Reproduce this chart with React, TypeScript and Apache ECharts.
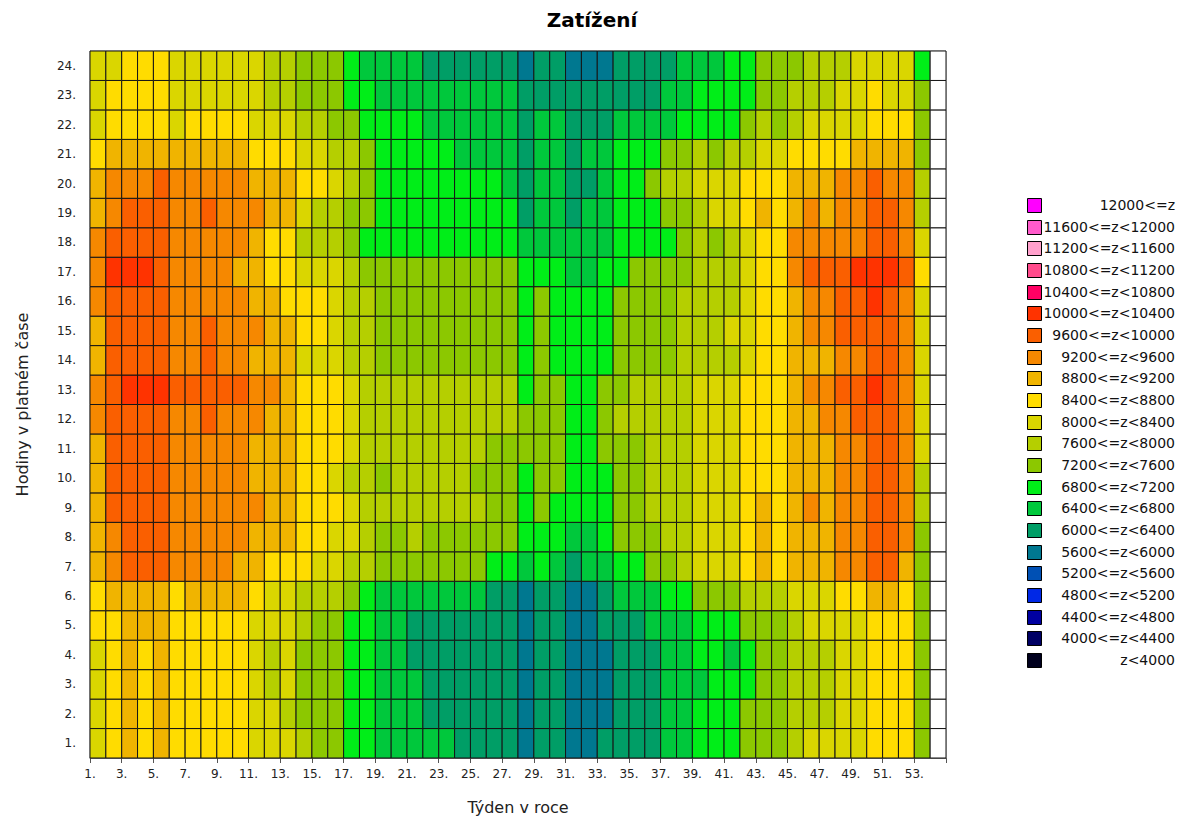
import React, { useEffect, useRef } from 'react';
import * as echarts from 'echarts';

const chartTitle = 'Zatížení';
const xAxisName = 'Týden v roce';
const yAxisName = 'Hodiny v platném čase';
const weekCount = 54;
const hourLabels = ['1.', '2.', '3.', '4.', '5.', '6.', '7.', '8.', '9.', '10.', '11.', '12.', '13.', '14.', '15.', '16.', '17.', '18.', '19.', '20.', '21.', '22.', '23.', '24.'];

const binLows = [12000, 11600, 11200, 10800, 10400, 10000, 9600, 9200, 8800, 8400, 8000, 7600, 7200, 6800, 6400, 6000, 5600, 5200, 4800, 4400, 4000, null];
const binLabels = ['12000<=z', '11600<=z<12000', '11200<=z<11600', '10800<=z<11200', '10400<=z<10800', '10000<=z<10400', '9600<=z<10000', '9200<=z<9600', '8800<=z<9200', '8400<=z<8800', '8000<=z<8400', '7600<=z<8000', '7200<=z<7600', '6800<=z<7200', '6400<=z<6800', '6000<=z<6400', '5600<=z<6000', '5200<=z<5600', '4800<=z<5200', '4400<=z<4800', '4000<=z<4400', 'z<4000'];
const binColors = ['#FF00FF', '#FF5ACB', '#FFA0CC', '#FF4B8C', '#FF0064', '#FF3300', '#FA5F00', '#F68800', '#F0B400', '#FFDC00', '#DAD600', '#B5CF00', '#8CC800', '#00EE18', '#00C83C', '#009E66', '#007890', '#0050B4', '#0028E6', '#0000A0', '#000064', '#00001E'];

// load per week (weeks 1..53; week 54 has no data) for each hour
const hour01 = [8200, 8600, 9000, 8600, 9000, 8600, 8600, 8600, 8600, 8600, 8200, 8200, 8200,
  7800, 7400, 7400, 7000, 7000, 6600, 6600, 6600, 6600, 6600, 6200, 6200, 6200, 6200,
  5800, 6200, 6200, 5800, 5800, 6200, 6200, 6200, 6200, 6600, 6600, 7000, 7000, 7000,
  7400, 7400, 7400, 7800, 8200, 8200, 8200, 8200, 8600, 8600, 8600, 7400];
const hour02 = [8200, 8600, 9000, 8600, 9000, 8600, 8600, 8600, 8600, 8600, 8200, 8200, 7800,
  7400, 7400, 7400, 7000, 7000, 6600, 6600, 6600, 6200, 6200, 6200, 6200, 6200, 6200,
  5800, 6200, 6200, 5800, 5800, 5800, 6200, 6200, 6200, 6600, 6600, 7000, 7000, 7000,
  7400, 7400, 7400, 7800, 7800, 7800, 8200, 8200, 8600, 8600, 8600, 7400];
const hour03 = [8200, 8600, 9000, 8600, 9000, 8600, 8600, 8600, 8600, 8600, 8200, 7800, 8200,
  7400, 7400, 7400, 7000, 7000, 6600, 6600, 6600, 6200, 6200, 6200, 6200, 6200, 6200,
  5800, 6200, 6200, 5800, 5800, 5800, 6200, 6200, 6200, 6600, 6600, 6600, 7000, 7000,
  7000, 7400, 7400, 7800, 7800, 7800, 8200, 8200, 8600, 8600, 8600, 7400];
const hour04 = [8200, 8600, 9000, 8600, 9000, 8600, 8600, 8600, 8600, 8600, 8200, 7800, 8200,
  7400, 7400, 7400, 7000, 7000, 6600, 6600, 6200, 6200, 6200, 6200, 6200, 6200, 6200,
  5800, 6200, 6200, 5800, 5800, 5800, 6200, 6200, 6200, 6600, 6600, 7000, 7000, 6600,
  7000, 7400, 7400, 7800, 7800, 7800, 8200, 8200, 8600, 8600, 8600, 7400];
const hour05 = [8600, 8600, 9000, 9000, 9000, 8600, 8600, 8600, 8600, 8600, 8200, 8200, 8200,
  7800, 7400, 7400, 7000, 7000, 6600, 6600, 6200, 6200, 6200, 6200, 6200, 6200, 6200,
  5800, 6200, 6200, 5800, 5800, 6200, 6200, 6200, 6600, 6600, 6600, 7000, 7000, 7000,
  7400, 7400, 7400, 7800, 8200, 8200, 8200, 8200, 8600, 8600, 8600, 7400];
const hour06 = [8600, 9000, 9000, 9000, 9000, 8600, 9000, 9000, 9000, 9000, 8600, 8200, 8200,
  7800, 7800, 7800, 7400, 7000, 6600, 6600, 6600, 6600, 6600, 6600, 6600, 6200, 6200,
  5800, 6200, 6200, 5800, 5800, 6200, 6600, 6600, 6600, 7000, 7000, 7400, 7400, 7400,
  7800, 7800, 7800, 8200, 8200, 8200, 8600, 8600, 9000, 9000, 8600, 7400];
const hour07 = [9000, 9400, 9800, 9800, 9800, 9400, 9400, 9400, 9400, 9000, 9000, 8600, 8600,
  8600, 8200, 8200, 7800, 7800, 7400, 7400, 7400, 7400, 7400, 7400, 7400, 7000, 7000,
  6600, 7000, 6600, 6200, 6600, 6600, 7000, 7000, 7400, 7400, 7800, 8200, 8200, 8200,
  8600, 9000, 8600, 9000, 9000, 9000, 9400, 9400, 9800, 9800, 9000, 7400];
const hour08 = [9000, 9400, 9800, 9800, 9800, 9400, 9400, 9400, 9400, 9400, 9000, 9000, 9000,
  8600, 8600, 8200, 8200, 7800, 7400, 7400, 7800, 7400, 7400, 7400, 7400, 7400, 7400,
  7000, 7000, 7000, 6600, 6600, 7000, 7400, 7400, 7400, 7800, 7800, 8200, 8200, 8200,
  8600, 9000, 8600, 9000, 9000, 9000, 9400, 9400, 9800, 9800, 9400, 7400];
const hour09 = [9000, 9800, 9800, 9800, 9800, 9400, 9400, 9400, 9400, 9400, 9400, 9000, 9000,
  8600, 8600, 8600, 8200, 7800, 7800, 7800, 7800, 7800, 7800, 7800, 7800, 7400, 7400,
  7000, 7400, 7000, 7000, 7000, 7000, 7400, 7400, 7800, 7800, 7800, 8200, 8200, 8200,
  8600, 9000, 8600, 9000, 9400, 9000, 9400, 9400, 9800, 9800, 9400, 7800];
const hour10 = [9000, 9800, 9800, 9800, 9800, 9400, 9400, 9400, 9400, 9400, 9000, 9000, 9000,
  8600, 8600, 8200, 7800, 7800, 7400, 7800, 7800, 7800, 7800, 7800, 7400, 7400, 7400,
  7000, 7400, 7400, 7000, 7000, 7000, 7400, 7400, 7800, 7800, 7800, 8200, 8200, 8200,
  8600, 8600, 8600, 9000, 9000, 9000, 9400, 9400, 9800, 9800, 9400, 7800];
const hour11 = [9000, 9800, 9800, 9800, 9800, 9400, 9400, 9400, 9400, 9400, 9000, 9000, 9000,
  8600, 8600, 8600, 8200, 7800, 7800, 7800, 7800, 7800, 7800, 7800, 7800, 7400, 7400,
  7400, 7400, 7400, 7000, 7000, 7400, 7400, 7400, 7800, 7800, 7800, 8200, 8200, 8200,
  8600, 8600, 8600, 9000, 9000, 9000, 9400, 9400, 9800, 9800, 9400, 8200];
const hour12 = [9400, 9800, 9800, 9800, 9800, 9400, 9400, 9800, 9400, 9400, 9400, 9000, 9000,
  8600, 8600, 8600, 8200, 7800, 7800, 7800, 7800, 7800, 7800, 7800, 7800, 7800, 7800,
  7400, 7400, 7400, 7000, 7000, 7400, 7800, 7800, 7800, 7800, 7800, 8200, 8200, 8200,
  8600, 8600, 8600, 9000, 9000, 9400, 9400, 9800, 9800, 9800, 9400, 8200];
const hour13 = [9400, 9800, 10200, 10200, 10200, 9800, 9800, 9800, 9800, 9800, 9400, 9400, 9000,
  8600, 8600, 8600, 8200, 7800, 7800, 7800, 7800, 7800, 7800, 7800, 7800, 7800, 7800,
  7000, 7400, 7400, 7000, 7000, 7400, 7400, 7800, 7800, 7800, 7800, 8200, 8200, 8200,
  8600, 8600, 8600, 9000, 9400, 9400, 9800, 9800, 10200, 9800, 9400, 8200];
const hour14 = [9000, 9800, 9800, 9800, 9800, 9400, 9400, 9800, 9400, 9400, 9000, 9000, 9000,
  8200, 8200, 8200, 7800, 7800, 7400, 7400, 7400, 7400, 7400, 7400, 7400, 7400, 7400,
  7000, 7400, 7000, 7000, 7000, 7000, 7400, 7400, 7400, 7400, 7800, 7800, 7800, 7800,
  8200, 8600, 8600, 9000, 9000, 9000, 9400, 9400, 9800, 9800, 9400, 8200];
const hour15 = [9000, 9800, 9800, 9800, 9800, 9400, 9400, 9800, 9400, 9400, 9400, 9000, 9000,
  8600, 8600, 8200, 7800, 7800, 7400, 7400, 7400, 7400, 7400, 7400, 7400, 7400, 7400,
  7000, 7400, 7000, 7000, 7000, 7000, 7400, 7400, 7400, 7400, 7800, 7800, 7800, 8200,
  8200, 8600, 8600, 9000, 9400, 9400, 9800, 9800, 9800, 9800, 9400, 8200];
const hour16 = [9400, 9800, 9800, 9800, 9800, 9400, 9400, 9400, 9400, 9400, 9000, 9000, 8600,
  8600, 8600, 8200, 7800, 7800, 7400, 7400, 7400, 7400, 7400, 7400, 7400, 7400, 7400,
  7000, 7400, 7000, 7000, 7000, 7000, 7400, 7400, 7400, 7400, 7800, 7800, 7800, 7800,
  8200, 8600, 8600, 9000, 9400, 9400, 9800, 9800, 10200, 9800, 9400, 8200];
const hour17 = [9400, 10200, 10200, 10200, 9800, 9400, 9400, 9400, 9400, 9000, 9000, 8600, 8600,
  8200, 8200, 8200, 7800, 7400, 7400, 7400, 7400, 7400, 7400, 7400, 7400, 7400, 7400,
  7000, 7000, 7000, 6600, 6600, 7000, 7000, 7400, 7400, 7400, 7400, 7800, 7800, 7800,
  8200, 8600, 8600, 9400, 9800, 9800, 9800, 10200, 10200, 10200, 9800, 8600];
const hour18 = [9400, 9800, 9800, 9800, 9800, 9400, 9400, 9400, 9400, 9400, 9000, 8600, 8600,
  7800, 7800, 7800, 7400, 7000, 7000, 7000, 7000, 7000, 7000, 7000, 7000, 7000, 7000,
  6600, 6600, 6600, 6600, 6600, 6600, 7000, 7000, 7000, 7000, 7400, 7800, 7400, 7800,
  8200, 8600, 8600, 9400, 9400, 9400, 9400, 9400, 9800, 9800, 9400, 8200];
const hour19 = [9000, 9400, 9800, 9800, 9800, 9400, 9400, 9800, 9400, 9400, 9400, 9000, 9000,
  8200, 7800, 7800, 7400, 7400, 7000, 7000, 7000, 7000, 7000, 7000, 7000, 7000, 7000,
  6200, 6600, 6600, 6200, 6600, 6600, 7000, 7000, 7000, 7400, 7400, 7800, 8200, 8200,
  8600, 9000, 8600, 9000, 9400, 9000, 9400, 9400, 9800, 9800, 9400, 7800];
const hour20 = [9000, 9400, 9400, 9400, 9800, 9400, 9400, 9400, 9400, 9400, 9000, 9000, 9000,
  8600, 8600, 8200, 7800, 7400, 7000, 7000, 7000, 7000, 7000, 7000, 7000, 7000, 6600,
  6200, 6600, 6600, 6200, 6200, 6600, 7000, 7000, 7400, 7800, 7800, 8200, 8200, 8200,
  8600, 8600, 8600, 9000, 9000, 9000, 9400, 9400, 9800, 9400, 9400, 7800];
const hour21 = [8600, 9000, 9000, 9000, 9000, 9000, 9000, 9000, 9000, 9000, 8600, 8600, 8600,
  8200, 8200, 7800, 7800, 7400, 7000, 7000, 7000, 7000, 7000, 6600, 6600, 6600, 6600,
  6200, 6600, 6600, 6200, 6600, 6600, 7000, 7000, 7000, 7400, 7400, 7800, 7400, 7800,
  7800, 8200, 8200, 8600, 8600, 8600, 8600, 9000, 9000, 9000, 9000, 7400];
const hour22 = [8200, 8600, 8600, 8600, 8600, 8200, 8600, 8600, 8600, 8600, 8200, 8200, 8200,
  7800, 7800, 7400, 7400, 7000, 7000, 7000, 7000, 6600, 6600, 6600, 6600, 6600, 6600,
  6200, 6600, 6600, 6200, 6200, 6200, 6600, 6600, 6600, 6600, 7000, 7000, 7000, 7000,
  7400, 7800, 7400, 7800, 8200, 8200, 8200, 8200, 8600, 8600, 8600, 7400];
const hour23 = [8200, 8600, 8600, 8600, 8600, 8200, 8200, 8200, 8200, 8200, 8200, 7800, 7800,
  7400, 7400, 7400, 7000, 7000, 6600, 6600, 6600, 6600, 6600, 6600, 6600, 6600, 6600,
  6200, 6200, 6200, 6200, 6200, 6200, 6200, 6200, 6200, 6600, 6600, 7000, 7000, 7000,
  7000, 7400, 7400, 7800, 7800, 7800, 8200, 8200, 8600, 8200, 8200, 7400];
const hour24 = [8200, 8200, 8600, 8600, 8600, 8200, 8200, 8200, 8200, 8200, 8200, 7800, 7800,
  7400, 7400, 7400, 7000, 6600, 6600, 6600, 6600, 6200, 6200, 6200, 6200, 6200, 6200,
  5800, 6200, 6200, 5800, 5800, 5800, 6200, 6200, 6200, 6200, 6600, 6600, 6600, 7000,
  7000, 7400, 7400, 7400, 7800, 7800, 7800, 8200, 8200, 8200, 8200, 7000];

const hours = [hour01, hour02, hour03, hour04, hour05, hour06, hour07, hour08, hour09, hour10, hour11, hour12,
  hour13, hour14, hour15, hour16, hour17, hour18, hour19, hour20, hour21, hour22, hour23, hour24];

const FONT = 'DejaVu Sans';

export default function App() {
  const ref = useRef<HTMLDivElement>(null);

  useEffect(() => {
    if (!ref.current) return;
    const chart = echarts.init(ref.current, undefined, { renderer: 'svg' });

    const cells: any[] = [];
    hours.forEach((row, h) => {
      for (let w = 0; w < weekCount; w++) {
        const v = row[w];
        cells.push([w, h, v === undefined ? '-' : v]);
      }
    });

    const pieces = binLows.map((low, i) => {
      const p: any = { color: binColors[i] };
      if (low !== null) p.gte = low;
      if (i > 0) p.lt = binLows[i - 1];
      return p;
    });

    const legendTop = 205;
    const legendStep = 21.67;
    const legendEls: any[] = [];
    binLabels.forEach((label, i) => {
      const cy = legendTop + i * legendStep;
      legendEls.push({
        type: 'rect',
        shape: { x: 1027.5, y: Math.round(cy - 7) + 0.5, width: 14, height: 14 },
        style: { fill: binColors[i], stroke: '#000', lineWidth: 1 },
      });
      legendEls.push({
        type: 'text',
        x: 1175,
        y: cy,
        style: { text: label, fill: '#111', font: `14px "${FONT}"`, align: 'right', verticalAlign: 'middle' },
      });
    });

    const option: any = {
      animation: false,
      backgroundColor: '#ffffff',
      title: {
        text: chartTitle,
        left: 'center',
        top: 5,
        textStyle: { fontFamily: FONT, fontWeight: 'bold', fontSize: 20, color: '#000' },
      },
      grid: { left: 90, top: 51, width: 856, height: 708, show: true, borderColor: '#999', borderWidth: 1, backgroundColor: '#fff' },
      xAxis: {
        type: 'value',
        min: 0,
        max: weekCount,
        interval: 2,
        name: xAxisName,
        nameLocation: 'middle',
        nameGap: 41,
        nameTextStyle: { fontFamily: FONT, fontSize: 16, color: '#222' },
        axisLine: { show: true, lineStyle: { color: '#777' } },
        axisTick: { show: true, length: 5, lineStyle: { color: '#555' } },
        axisLabel: {
          formatter: (v: number) => (v < weekCount ? `${v + 1}.` : ''),
          margin: 10,
          fontFamily: FONT,
          fontSize: 12,
          color: '#222',
          showMaxLabel: true,
        },
        splitLine: { show: false },
      },
      yAxis: [
        {
          type: 'value',
          min: 0,
          max: hourLabels.length,
          interval: 1,
          name: yAxisName,
          nameLocation: 'middle',
          nameGap: 60,
          nameTextStyle: { fontFamily: FONT, fontSize: 16, color: '#222' },
          axisLabel: { show: false },
          axisTick: { show: false },
          axisLine: { show: true, lineStyle: { color: '#999' } },
          splitLine: { show: false },
        },
        {
          type: 'category',
          data: hourLabels,
          position: 'left',
          axisLabel: { margin: 14, fontFamily: FONT, fontSize: 12, color: '#222' },
          axisTick: { show: false },
          axisLine: { show: false },
          splitLine: { show: false },
        },
      ],
      visualMap: {
        type: 'piecewise',
        show: false,
        dimension: 2,
        seriesIndex: 0,
        pieces,
      },
      series: [
        {
          type: 'custom',
          xAxisIndex: 0,
          yAxisIndex: 0,
          encode: { x: 0, y: 1 },
          data: cells,
          renderItem: (params: any, api: any) => {
            const x = api.value(0);
            const y = api.value(1);
            const v = api.value(2);
            const p0 = api.coord([x, y + 1]);
            const p1 = api.coord([x + 1, y]);
            const empty = v === '-' || v === null || v === undefined || Number.isNaN(Number(v));
            return {
              type: 'rect',
              shape: { x: p0[0], y: p0[1], width: p1[0] - p0[0], height: p1[1] - p0[1] },
              style: { fill: empty ? '#ffffff' : api.visual('color'), stroke: '#151515', lineWidth: 1 },
            };
          },
        },
      ],
      graphic: legendEls,
    };

    chart.setOption(option);
    return () => chart.dispose();
  }, []);

  return (
    <div
      ref={ref}
      style={{ position: 'absolute', left: 0, top: 0, width: 1184, height: 820, background: '#fff' }}
    />
  );
}
